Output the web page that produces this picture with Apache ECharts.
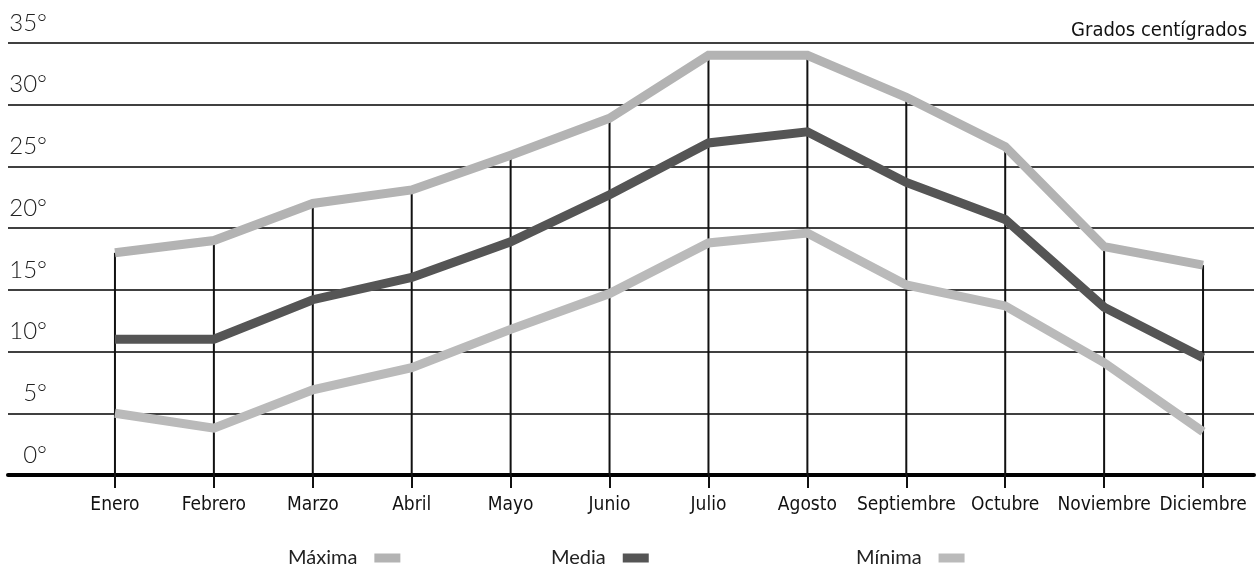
<!DOCTYPE html>
<html><head><meta charset="utf-8">
<script src="https://cdn.jsdelivr.net/npm/echarts@6/dist/echarts.min.js"></script>
<style>html,body{margin:0;padding:0;background:#fff}#c{width:1260px;height:574px}</style>
</head><body><div id="c"></div>
<script>
const months = ['Enero','Febrero','Marzo','Abril','Mayo','Junio','Julio','Agosto','Septiembre','Octubre','Noviembre','Diciembre'];
const maxima = [18, 19, 22, 23.1, 25.9, 28.9, 34, 34, 30.6, 26.6, 18.5, 17];
const media  = [11, 11, 14.2, 16, 18.9, 22.7, 26.9, 27.8, 23.7, 20.7, 13.6, 9.5];
const minima = [5, 3.8, 6.9, 8.7, 11.8, 14.7, 18.8, 19.6, 15.4, 13.7, 9.1, 3.5];
const yMin = 0, yMax = 35, yStep = 5;
const unitTitle = 'Grados centígrados';

const narrow = '"Liberation Sans Narrow","DejaVu Sans Condensed","Roboto Condensed",sans-serif';
const round = 'Lato, "Open Sans", sans-serif';
const cMax = '#b3b3b3', cMed = '#555555', cMin = '#bababa';

const chart = echarts.init(document.getElementById('c'));
const TOP = 43, BOTTOM = 99;
function legendAt(name, left) {
  return {
    data: [name], left: left, top: 543, align: 'right', icon: 'rect',
    itemWidth: 26, itemHeight: 9, selectedMode: false,
    textStyle: {fontSize: 20, fontFamily: round, fontWeight: 400, color: '#222', padding: [0, 12, 0, 0]}
  };
}
chart.setOption({
  animation: false,
  backgroundColor: '#fff',
  title: {text: unitTitle, right: 8, top: 16,
    textStyle: {fontSize: 20, fontWeight: 'normal', fontFamily: narrow, color: '#111'}},
  legend: [legendAt('Máxima', 283), legendAt('Media', 546), legendAt('Mínima', 851)],
  grid: [
    {left: 8, right: 6, top: TOP, bottom: BOTTOM},
    {left: 65.5, right: 7.5, top: TOP, bottom: BOTTOM}
  ],
  xAxis: [
    {gridIndex: 0, type: 'value', min: 0, max: 1, axisLabel: {show: false}, axisTick: {show: false},
      splitLine: {show: false}, axisLine: {show: true, lineStyle: {color: '#000', width: 4}}},
    {gridIndex: 1, type: 'category', data: months, boundaryGap: true,
      axisLine: {show: false},
      axisTick: {show: true, alignWithLabel: true, length: 13, lineStyle: {color: '#111', width: 2}},
      axisLabel: {fontSize: 19, fontFamily: narrow, color: '#111', margin: 21, interval: 0}}
  ],
  yAxis: [
    {gridIndex: 0, type: 'value', min: yMin, max: yMax, interval: yStep,
      axisLine: {show: false}, axisTick: {show: false},
      splitLine: {show: true, lineStyle: {color: '#000', width: 1.5}},
      axisLabel: {inside: true, align: 'right', margin: 39, verticalAlign: 'bottom',
        padding: [0, 0, 8, 0], fontSize: 24, fontFamily: round, fontWeight: 300, color: '#222',
        formatter: '{value}°'}},
    {gridIndex: 1, type: 'value', min: yMin, max: yMax, interval: yStep, show: false}
  ],
  series: [
    {name: 'vert', type: 'bar', xAxisIndex: 1, yAxisIndex: 1, data: maxima, barWidth: 2,
      itemStyle: {color: '#111'}, silent: true, z: 1},
    {name: 'Máxima', type: 'line', xAxisIndex: 1, yAxisIndex: 1, data: maxima, symbol: 'none',
      lineStyle: {color: cMax, width: 9, cap: 'butt', join: 'miter'}, itemStyle: {color: cMax}, z: 3},
    {name: 'Media', type: 'line', xAxisIndex: 1, yAxisIndex: 1, data: media, symbol: 'none',
      lineStyle: {color: cMed, width: 9, cap: 'butt', join: 'miter'}, itemStyle: {color: cMed}, z: 3},
    {name: 'Mínima', type: 'line', xAxisIndex: 1, yAxisIndex: 1, data: minima, symbol: 'none',
      lineStyle: {color: cMin, width: 9, cap: 'butt', join: 'miter'}, itemStyle: {color: cMin}, z: 3}
  ]
});
</script></body></html>
